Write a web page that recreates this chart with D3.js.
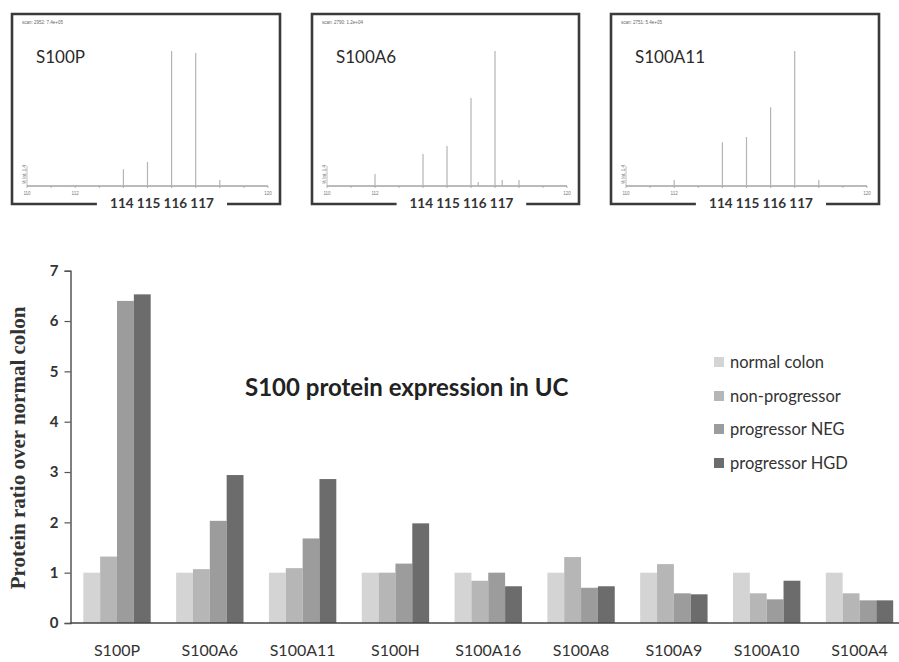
<!DOCTYPE html>
<html>
<head>
<meta charset="utf-8">
<script src="https://cdn.jsdelivr.net/npm/d3@7"></script>
<style>
  html, body { margin: 0; padding: 0; background: #fff; }
  svg { display: block; }
</style>
</head>
<body>
<svg id="chart" width="899" height="662"></svg>
<script>
// ---------- Bar chart data ----------
const categories = ["S100P","S100A6","S100A11","S100H","S100A16","S100A8","S100A9","S100A10","S100A4"];
const seriesNames = ["normal colon","non-progressor","progressor NEG","progressor HGD"];
const normalColon    = [1.00, 1.00, 1.00, 1.00, 1.00, 1.00, 1.00, 1.00, 1.00];
const nonProgressor  = [1.32, 1.07, 1.09, 1.00, 0.84, 1.31, 1.17, 0.59, 0.59];
const progressorNEG  = [6.40, 2.03, 1.68, 1.18, 1.00, 0.70, 0.59, 0.47, 0.45];
const progressorHGD  = [6.53, 2.94, 2.86, 1.98, 0.73, 0.73, 0.57, 0.84, 0.45];
const seriesColors   = ["#d4d4d4", "#b6b6b6", "#9c9c9c", "#6c6c6c"];
const yTicks = [0, 1, 2, 3, 4, 5, 6, 7];

// ---------- Spectrum inset data (m/z, relative intensity %) ----------
const panelNames = ["S100P", "S100A6", "S100A11"];
const panelScanText = ["scan: 2952: 7.4e+05", "scan: 2790: 1.2e+04", "scan: 2751: 5.4e+05"];
const reporterLabel = "114 115 116 117";
const s100pMz   = [114, 115, 116, 117, 118];
const s100pInt  = [12.4, 17.8, 100, 98.5, 4.4];
const s100a6Mz  = [112, 114, 115, 116, 116.3, 117, 117.3, 118];
const s100a6Int = [8.9, 23.7, 29.6, 65.2, 3.0, 100, 4.4, 4.4];
const s100a11Mz  = [112, 114, 115, 116, 117, 118];
const s100a11Int = [4.4, 32.4, 36.3, 58.3, 100, 4.4];
const mzTicks = [110, 111, 112, 113, 114, 115, 116, 117, 118, 119, 120];
const mzTickLabels = [110, 112, 120];

const svg = d3.select("#chart");

// ================= Insets =================
const panelBoxes = [[12, 14, 280, 204], [312, 14, 579, 204], [611, 14, 879, 204]];
const panelPeaks = [[s100pMz, s100pInt], [s100a6Mz, s100a6Int], [s100a11Mz, s100a11Int]];

panelBoxes.forEach((b, i) => {
  const [L, T, R, B] = b;
  const g = svg.append("g");
  const x = d3.scaleLinear().domain([110, 120]).range([L + 15, R - 12]);
  const y = d3.scaleLinear().domain([0, 100]).range([186, 51]);
  const gapL = x(112.9), gapR = x(118.3);
  g.append("path")
    .attr("d", `M${gapL},${B} L${L},${B} L${L},${T} L${R},${T} L${R},${B} L${gapR},${B}`)
    .attr("fill", "none").attr("stroke", "#3a3a3a").attr("stroke-width", 2.6);
  g.append("text").attr("x", L + 10).attr("y", T + 10)
    .attr("font-family", "Liberation Sans, Arial, sans-serif").attr("font-size", 4.5)
    .attr("fill", "#666").text(panelScanText[i]);
  g.append("text").attr("x", L + 24).attr("y", 63)
    .attr("font-family", "Lato, sans-serif").attr("font-size", 17)
    .attr("fill", "#2a2a2a").text(panelNames[i]);
  g.append("line").attr("x1", x(110)).attr("x2", x(120)).attr("y1", y(0)).attr("y2", y(0))
    .attr("stroke", "#777").attr("stroke-width", 1);
  g.selectAll("line.tk").data(mzTicks).join("line").attr("class", "tk")
    .attr("x1", d => x(d)).attr("x2", d => x(d)).attr("y1", y(0)).attr("y2", y(0) + 2)
    .attr("stroke", "#999").attr("stroke-width", 0.7);
  g.selectAll("text.tl").data(mzTickLabels).join("text").attr("class", "tl")
    .attr("x", d => x(d)).attr("y", y(0) + 9).attr("text-anchor", "middle")
    .attr("font-family", "Liberation Sans, Arial, sans-serif").attr("font-size", 4.5)
    .attr("fill", "#777").text(d => d);
  g.append("text")
    .attr("transform", `translate(${x(110) - 1},${y(0) - 2}) rotate(-90)`)
    .attr("font-family", "Liberation Sans, Arial, sans-serif").attr("font-size", 4.5)
    .attr("fill", "#777").text("% Int. 1.4");
  g.append("line").attr("x1", x(110)).attr("x2", x(110)).attr("y1", y(0)).attr("y2", y(0) - 20)
    .attr("stroke", "#999").attr("stroke-width", 0.6);
  const [mzs, ints] = panelPeaks[i];
  g.selectAll("line.pk").data(mzs.map((m, k) => [m, ints[k]])).join("line").attr("class", "pk")
    .attr("x1", d => x(d[0])).attr("x2", d => x(d[0]))
    .attr("y1", y(0)).attr("y2", d => y(d[1]))
    .attr("stroke", "#b4b4b4").attr("stroke-width", 1.2);
  g.append("text").attr("x", x(115.6)).attr("y", B + 4).attr("text-anchor", "middle")
    .attr("font-family", "Lato, sans-serif").attr("font-weight", 700).attr("font-size", 13.5)
    .attr("fill", "#333").text(reporterLabel);
});

// ================= Bar chart =================
const x0 = d3.scaleBand().domain(categories).range([70.5, 906])
  .paddingInner(0.274).paddingOuter(0.138);
const x1 = d3.scaleBand().domain(seriesNames).range([0, x0.bandwidth()]);
const y = d3.scaleLinear().domain([0, 7]).range([623, 270.7]);
const seriesValues = [normalColon, nonProgressor, progressorNEG, progressorHGD];

const bars = svg.append("g");
categories.forEach((c, ci) => {
  bars.selectAll(null).data(seriesNames).join("rect")
    .attr("x", s => x0(c) + x1(s))
    .attr("width", x1.bandwidth())
    .attr("y", (s, si) => y(seriesValues[si][ci]))
    .attr("height", (s, si) => y(0) - y(seriesValues[si][ci]))
    .attr("fill", (s, si) => seriesColors[si]);
});

// Y axis
const yAxis = svg.append("g").attr("transform", "translate(70.5,0)")
  .call(d3.axisLeft(y).tickValues(yTicks).tickSize(6).tickPadding(6).tickFormat(d3.format("d")));
yAxis.select(".domain").attr("stroke", "#555").attr("stroke-width", 1.5);
yAxis.selectAll(".tick line").attr("stroke", "#555").attr("stroke-width", 1.2);
yAxis.selectAll(".tick text").attr("font-family", "Lato, sans-serif").attr("font-weight", 700)
  .attr("font-size", 15).attr("fill", "#333");

// X axis (line + labels)
const xAxis = svg.append("g").attr("transform", "translate(0,623)")
  .call(d3.axisBottom(x0).tickSize(0).tickPadding(22));
xAxis.select(".domain").remove();
svg.append("line").attr("x1", 70.5).attr("x2", 899).attr("y1", 623).attr("y2", 623)
  .attr("stroke", "#444").attr("stroke-width", 1.6);
xAxis.selectAll(".tick text").attr("font-family", "Lato, sans-serif")
  .attr("font-size", 16).attr("fill", "#333");

// Y label
svg.append("text")
  .attr("transform", "translate(25,448) rotate(-90)")
  .attr("text-anchor", "middle")
  .attr("font-family", "Liberation Serif, Times New Roman, serif")
  .attr("font-weight", 700).attr("font-size", 21).attr("fill", "#333")
  .text("Protein ratio over normal colon");

// Title
svg.append("text").attr("x", 245).attr("y", 396)
  .attr("font-family", "Lato, sans-serif").attr("font-weight", 700).attr("font-size", 24)
  .attr("fill", "#222").text("S100 protein expression in UC");

// Legend
const legendY = [362, 396, 429, 463];
const lg = svg.append("g");
seriesNames.forEach((s, i) => {
  lg.append("rect").attr("x", 714).attr("y", legendY[i] - 5).attr("width", 10).attr("height", 10)
    .attr("fill", seriesColors[i]);
  lg.append("text").attr("x", 730).attr("y", legendY[i] + 5.5)
    .attr("font-family", "Lato, sans-serif").attr("font-size", 16.5).attr("fill", "#333").text(s);
});
</script>
</body>
</html>
